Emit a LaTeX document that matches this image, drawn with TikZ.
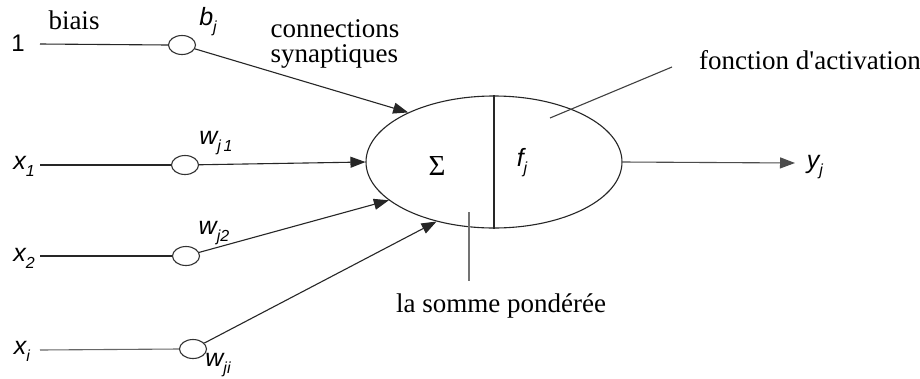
\documentclass[tikz,border=0pt]{standalone}
\usepackage{fontspec}
\setmainfont{Liberation Serif}
\newfontfamily\lsans{Liberation Sans}
\usetikzlibrary{shapes.geometric,arrows.meta}
\newcommand{\slab}[2]{{\lsans\itshape\fontsize{25}{25}\selectfont #1\raisebox{-0.28em}{\fontsize{16}{16}\selectfont #2}}}
\tikzset{
  wire/.style={line width=1.1pt, draw=black!85},
  arr/.style={wire, -{Triangle[length=15pt,width=11pt]}},
  wcirc/.style={ellipse, draw=black!80, line width=1.1pt, minimum width=27pt, minimum height=19pt, inner sep=0pt},
  serlab/.style={inner sep=0pt, font=\fontsize{27}{25}\selectfont},
  mlab/.style={inner sep=0pt},
}
\begin{document}
\begin{tikzpicture}[x=1pt,y=-1pt]
\useasboundingbox[fill=white] (0,0) rectangle (920,378);
% neuron
\node[ellipse, draw=black!85, line width=1.1pt, minimum width=256pt, minimum height=132pt, inner sep=0pt] (neuron) at (494,162) {};
\draw[wire] (neuron.north) -- (neuron.south);
\node[mlab, font=\fontsize{29}{29}\selectfont] (sigma) at (437,166) {Σ};
\node[mlab] (fj) at (522,163) {\slab{f}{j}};
% weight circles
\node[wcirc] (cb) at (182,45) {};
\node[wcirc] (c1) at (185,165) {};
\node[wcirc] (c2) at (186,256) {};
\node[wcirc] (ci) at (193,349) {};
% input labels
\node[mlab, font=\lsans\fontsize{24}{24}\selectfont] (one) at (18,43) {1};
\node[mlab] (x1) at (24,166) {\slab{x}{1}};
\node[mlab] (x2) at (24,258) {\slab{x}{2}};
\node[mlab] (xi) at (22,351) {\slab{x}{i}};
% input wires
\coordinate (s0) at (40,44);
\coordinate (s1) at (40,165);
\coordinate (s2) at (40,256);
\coordinate (si) at (40,350);
\draw[wire] (s0) -- (cb.west);
\draw[wire] (s1) -- (c1.west);
\draw[wire] (s2) -- (c2.west);
\draw[wire, draw=black!60] (si) -- (ci.west);
% weight labels
\node[mlab] (lb) at (208,22) {\slab{b}{j}};
\node[mlab] (lw1) at (216,143) {\slab{w}{j\,1}};
\node[mlab] (lw2) at (214,233) {\slab{w}{j2}};
\node[mlab] (lwi) at (218,365) {\slab{w}{ji}};
\node[serlab] (biais) at (74,20) {biais};
\node[serlab, align=left] (conn) at (335,44) {connections\\synaptiques};
% synaptic arrows
\draw[arr] (cb) -- (neuron.150);
\draw[arr] (c1) -- (neuron.180);
\draw[arr] (c2) -- (neuron.200);
\draw[arr] (ci) -- (neuron.226);
% output
\coordinate (yend) at (795,163);
\draw[arr, draw=black!70] (neuron.east) -- (yend);
\node[mlab] (yj) at (815,167) {\slab{y}{j}};
% annotations
\node[serlab] (act) at (810,60) {fonction d\textquotesingle activation};
\coordinate (a1) at (550,118);
\coordinate (a2) at (672,67);
\draw[wire, draw=black!75] (a1) -- (a2);
\node[serlab] (som) at (501,306) {la somme pondérée};
\coordinate (p1) at (469,212);
\coordinate (p2) at (469,281);
\draw[wire, draw=black!55] (p1) -- (p2);
\end{tikzpicture}
\end{document}
